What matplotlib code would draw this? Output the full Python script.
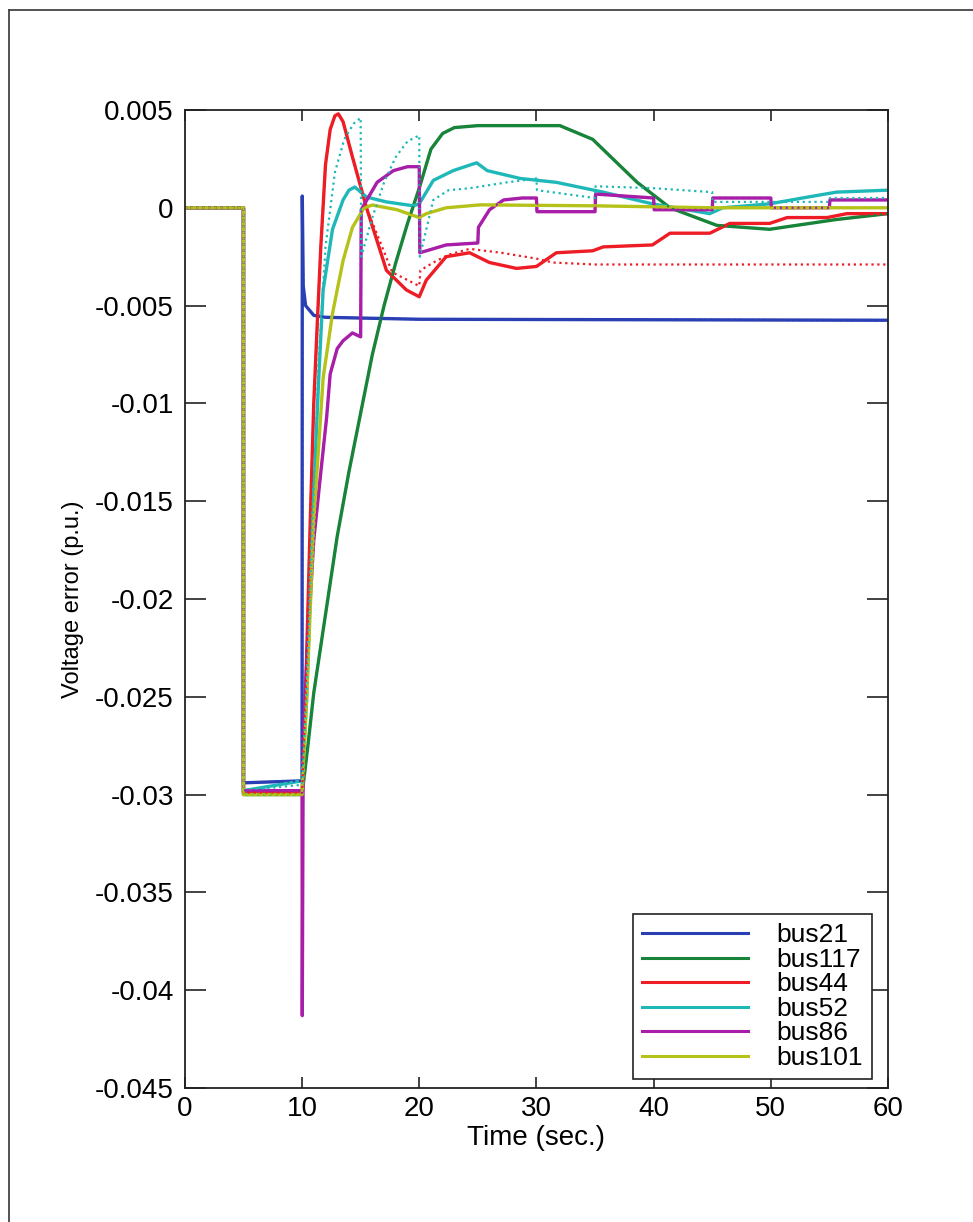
import matplotlib
matplotlib.use('Agg')
import matplotlib.pyplot as plt
from matplotlib.lines import Line2D

plt.rcParams['font.family'] = ['Liberation Sans', 'DejaVu Sans']

## donnees (temps en s, erreur en p.u.)

labels = ['bus21', 'bus117', 'bus44', 'bus52', 'bus86', 'bus101']
colors = ['#2b3fb5', '#17843a', '#ee1c24', '#1fb8b8', '#a81ea8', '#b5c21a']

# bus21
t_bus21 = [0, 5, 5, 10, 10.02, 10.1, 10.3, 11, 12, 20, 60]
v_bus21 = [0, 0, -0.0294, -0.0293, 0.0006, -0.0040, -0.0050, -0.0055, -0.0056, -0.0057, -0.00575]

# bus117
t_bus117 = [0, 5, 5, 10, 10.5, 11, 12, 13, 14, 15, 16, 17, 18, 19, 20, 21, 22, 23, 25, 32,
            34.8, 38.6, 41.4, 45.4, 49.9, 55.6, 60]
v_bus117 = [0, 0, -0.0300, -0.0300, -0.0275, -0.0248, -0.0208, -0.0168, -0.0135, -0.0105,
            -0.0075, -0.0050, -0.0028, -0.0008, 0.0010, 0.0030, 0.0038, 0.0041, 0.0042, 0.0042,
            0.0035, 0.0013, 0.0000, -0.0009, -0.0011, -0.0006, -0.0003]

# bus44
t_bus44 = [0, 5, 5, 10, 10.3, 10.7, 11.0, 11.3, 11.6, 12.0, 12.4, 12.8, 13.1, 13.5, 14.3, 15.5,
           17.2, 18.9, 20, 20.6, 22.3, 24.3, 26, 28.3, 30, 31.7, 34.8, 35.7, 39.9, 41.4, 44.8,
           46.5, 49.9, 51.4, 54.8, 56.5, 60]
v_bus44 = [0, 0, -0.0299, -0.0299, -0.0250, -0.0160, -0.0100, -0.0059, -0.0020, 0.0022, 0.0040,
           0.0047, 0.0048, 0.0044, 0.0026, 0.0000, -0.0032, -0.0042, -0.00455, -0.0037,
           -0.0025, -0.0023, -0.0028, -0.0031, -0.0030, -0.0023, -0.0022, -0.0020, -0.0019,
           -0.0013, -0.0013, -0.0008, -0.0008, -0.0005, -0.0005, -0.0003, -0.0003]

# bus52
t_bus52 = [0, 5, 5, 10, 10.4, 10.9, 11.4, 11.8, 12.6, 13.5, 14.0, 14.5, 15.5, 17.2, 19.5, 20,
           21.2, 22.9, 24.9, 25.8, 28.6, 31.7, 35.7, 39.9, 44.8, 45.9, 49.9, 52.7, 55.6, 60]
v_bus52 = [0, 0, -0.0298, -0.0293, -0.0250, -0.0160, -0.0090, -0.0042, -0.0011, 0.0004, 0.0009,
           0.00106, 0.00055, 0.0003, 0.0001, 0.0002, 0.0014, 0.0019, 0.0023, 0.0019, 0.0015,
           0.0013, 0.0008, 0.0002, -0.0003, 0.0000, 0.0002, 0.0005, 0.0008, 0.0009]

# bus86
t_bus86 = [0, 5, 5, 10, 10.02, 10.1, 10.5, 11.0, 11.5, 12.1, 12.4, 13.0, 13.5, 14.3, 15, 15.05,
           16.4, 17.8, 19.0, 20, 20.05, 22.3, 25, 25.05, 26, 27.2, 28.8, 30, 30.05, 35, 35.05,
           40, 40.05, 45, 45.05, 50, 50.05, 55, 55.05, 60]
v_bus86 = [0, 0, -0.0298, -0.0298, -0.0413, -0.0270, -0.0220, -0.0170, -0.0141, -0.0107,
           -0.0085, -0.0072, -0.0068, -0.0064, -0.0066, -0.0001, 0.0013, 0.0019, 0.0021,
           0.0021, -0.0023, -0.0019, -0.0018, -0.0010, -0.0001, 0.0004, 0.0005, 0.0005,
           -0.0002, -0.0002, 0.0007, 0.0005, -0.0001, -0.0001, 0.0005, 0.0005, 0.0000,
           0.0000, 0.0004, 0.0004]

# bus101
t_bus101 = [0, 5, 5, 10, 10.4, 11, 11.8, 12.6, 13.5, 14.3, 15.3, 16, 18.1, 20, 20.6, 22.3,
            25.2, 35, 45, 60]
v_bus101 = [0, 0, -0.0300, -0.0300, -0.0250, -0.0160, -0.0087, -0.0054, -0.0027, -0.0010,
            0.0000, 0.00014, -0.0001, -0.0005, -0.0003, 0.0000, 0.00015, 0.0001, 0.0000, 0.0000]

# courbes en pointilles (sans controle)
t_bus44_ref = [0, 5, 5, 10, 10.3, 10.7, 11.0, 11.3, 11.6, 12.0, 12.4, 12.8, 13.1, 13.5, 14.3,
               15.5, 17.7, 20, 20.1, 21.2, 22.5, 24.3, 27, 30, 31.4, 35, 60]
v_bus44_ref = [0, 0, -0.0299, -0.0299, -0.0250, -0.0160, -0.0100, -0.0059, -0.0020, 0.0022,
               0.0040, 0.0047, 0.0048, 0.0044, 0.0026, 0.0000, -0.0033, -0.0040, -0.0032,
               -0.0028, -0.0024, -0.0021, -0.0023, -0.0026, -0.0028, -0.0029, -0.0029]

t_bus52_ref = [0, 5, 5, 10, 10.4, 10.9, 11.4, 12, 12.8, 13.6, 14.4, 15, 15.05, 16, 17, 18, 19,
               20, 20.05, 21.2, 22.5, 24.3, 27.5, 30, 30.05, 35, 35.05, 40, 45, 45.05, 55,
               55.05, 60]
v_bus52_ref = [0, 0, -0.0298, -0.0295, -0.0250, -0.0160, -0.0080, -0.0020, 0.0018, 0.0035,
               0.0043, 0.0046, -0.0025, -0.0005, 0.0013, 0.0026, 0.0034, 0.0037, -0.0025,
               0.0004, 0.0009, 0.0010, 0.0013, 0.0015, 0.0009, 0.0005, 0.0011, 0.0010, 0.0008,
               0.0003, 0.0003, 0.0005, 0.0005]

solides = [(t_bus21, v_bus21), (t_bus117, v_bus117), (t_bus44, v_bus44),
           (t_bus52, v_bus52), (t_bus86, v_bus86), (t_bus101, v_bus101)]
pointilles = [(t_bus21, v_bus21), (t_bus117, v_bus117), (t_bus44_ref, v_bus44_ref),
              (t_bus52_ref, v_bus52_ref), (t_bus86, v_bus86), (t_bus101, v_bus101)]

## figure

fig = plt.figure(figsize=(9.73, 12.22), dpi=100)
ax = fig.add_axes([0.190, 0.1097, 0.7226, 0.8003])

for (t, v), c, lab in zip(solides, colors, labels):
    ax.plot(t, v, color=c, linewidth=2.4, label=lab)
for (t, v), c in zip(pointilles, colors):
    ax.plot(t, v, color=c, linewidth=1.6, linestyle=':')

ax.set_xlim(0, 60)
ax.set_ylim(-0.045, 0.005)
ax.set_xticks(range(0, 61, 10))
yt = [0.005, 0, -0.005, -0.01, -0.015, -0.02, -0.025, -0.03, -0.035, -0.04, -0.045]
ax.set_yticks(yt)
ax.set_yticklabels(['0.005', '0', '-0.005', '-0.01', '-0.015', '-0.02', '-0.025', '-0.03',
                    '-0.035', '-0.04', '-0.045'])
ax.tick_params(axis='both', direction='in', labelsize=20, width=1.2, color='#222222')
ax.tick_params(axis='x', length=8, top=True, pad=6)
ax.tick_params(axis='y', length=15, right=True, pad=8)
for s in ax.spines.values():
    s.set_linewidth(1.3)
    s.set_color('#222222')

ax.set_xlabel('Time (sec.)', fontsize=20, labelpad=2)
ax.set_ylabel('Voltage error (p.u.)', fontsize=17, labelpad=8)

handles = [Line2D([], [], color=c, linewidth=2.2) for c in colors]
leg = ax.legend(handles, labels, loc='lower right', fontsize=19, handlelength=4.0,
                handletextpad=1.1, labelspacing=0.02, borderpad=0.35, borderaxespad=0,
                bbox_to_anchor=(0.978, 0.009), fancybox=False, framealpha=1)
leg.get_frame().set_edgecolor('#222222')
leg.get_frame().set_linewidth(1.2)

# cadre exterieur (bords gauche et haut)
fig.add_artist(Line2D([9 / 973, 9 / 973], [1 - 10 / 1222, 0], color='#444444', linewidth=1.3))
fig.add_artist(Line2D([9 / 973, 1], [1 - 10 / 1222, 1 - 10 / 1222], color='#444444', linewidth=1.3))

fig.savefig('out.png', dpi=100)
